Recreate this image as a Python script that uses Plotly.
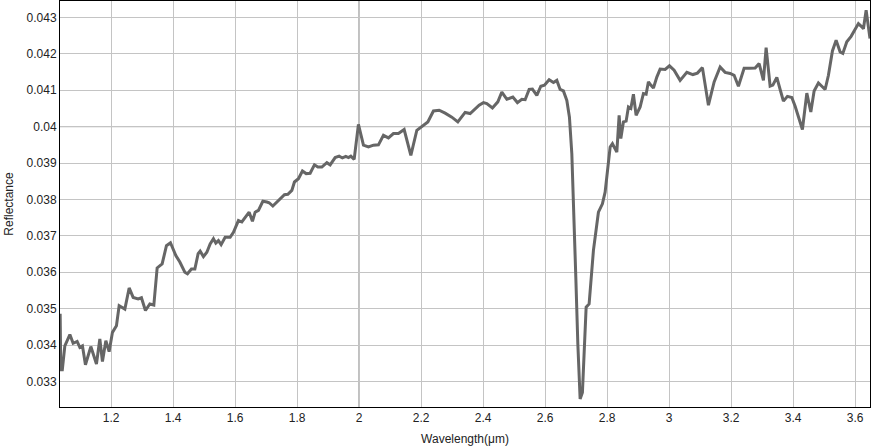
import plotly.graph_objects as go

wavelength = [
    1.0355, 1.0375, 1.0425, 1.0506, 1.0668, 1.0774, 1.0903, 1.0990, 1.1074, 1.1171,
    1.1345, 1.1526, 1.1635, 1.1719, 1.1829, 1.1935, 1.2042, 1.2171, 1.2258, 1.2442,
    1.2581, 1.2710, 1.2871, 1.2977, 1.3106, 1.3248, 1.3377, 1.3484, 1.3645, 1.3784,
    1.3913, 1.4087, 1.4216, 1.4377, 1.4461, 1.4590, 1.4700, 1.4806, 1.4871, 1.4977,
    1.5087, 1.5194, 1.5300, 1.5377, 1.5461, 1.5548, 1.5677, 1.5839, 1.5945, 1.6106,
    1.6216, 1.6323, 1.6452, 1.6558, 1.6645, 1.6752, 1.6894, 1.7023, 1.7097, 1.7216,
    1.7345, 1.7484, 1.7590, 1.7700, 1.7829, 1.7913, 1.8042, 1.8171, 1.8290, 1.8419,
    1.8558, 1.8668, 1.8797, 1.8958, 1.9065, 1.9226, 1.9355, 1.9461, 1.9571, 1.9655,
    1.9732, 1.9839, 1.9977, 2.0139, 2.0300, 2.0461, 2.0623, 2.0784, 2.0945, 2.1106,
    2.1268, 2.1452, 2.1668, 2.1861, 2.2042, 2.2216, 2.2397, 2.2581, 2.2774, 2.2990,
    2.3184, 2.3419, 2.3581, 2.3871, 2.4010, 2.4119, 2.4300, 2.4474, 2.4603, 2.4765,
    2.4958, 2.5106, 2.5248, 2.5355, 2.5484, 2.5590, 2.5732, 2.5861, 2.5977, 2.6129,
    2.6268, 2.6377, 2.6484, 2.6590, 2.6700, 2.6784, 2.6861, 2.6926, 2.6990, 2.7055,
    2.7129, 2.7203, 2.7323, 2.7419, 2.7558, 2.7719, 2.7848, 2.7935, 2.8097, 2.8171,
    2.8313, 2.8387, 2.8442, 2.8526, 2.8613, 2.8687, 2.8765, 2.8848, 2.8935, 2.9065,
    2.9171, 2.9258, 2.9332, 2.9410, 2.9494, 2.9603, 2.9710, 2.9871, 3.0010, 3.0161,
    3.0355, 3.0571, 3.0765, 3.0913, 3.1074, 3.1268, 3.1452, 3.1645, 3.1806, 3.1968,
    3.2097, 3.2235, 3.2419, 3.2590, 3.2774, 3.2903, 3.3042, 3.3129, 3.3258, 3.3345,
    3.3474, 3.3581, 3.3687, 3.3816, 3.3958, 3.4065, 3.4300, 3.4442, 3.4571, 3.4677,
    3.4816, 3.4926, 3.5032, 3.5139, 3.5268, 3.5387, 3.5516, 3.5603, 3.5732, 3.5871,
    3.5968, 3.6106, 3.6216, 3.6268, 3.6355, 3.6480,
]

reflectance = [
    0.03486, 0.03332, 0.03332, 0.03398, 0.03429, 0.03405, 0.03410, 0.03394, 0.03398, 0.03346,
    0.03396, 0.03348, 0.03417, 0.03355, 0.03412, 0.03382, 0.03435, 0.03453, 0.03508, 0.03499,
    0.03557, 0.03531, 0.03527, 0.03530, 0.03495, 0.03513, 0.03510, 0.03612, 0.03623, 0.03673,
    0.03681, 0.03646, 0.03628, 0.03600, 0.03596, 0.03609, 0.03609, 0.03651, 0.03658, 0.03643,
    0.03655, 0.03678, 0.03692, 0.03680, 0.03687, 0.03676, 0.03696, 0.03696, 0.03710, 0.03742,
    0.03738, 0.03751, 0.03765, 0.03740, 0.03765, 0.03770, 0.03795, 0.03793, 0.03791, 0.03782,
    0.03793, 0.03802, 0.03813, 0.03814, 0.03825, 0.03848, 0.03857, 0.03878, 0.03871, 0.03872,
    0.03895, 0.03889, 0.03889, 0.03901, 0.03895, 0.03915, 0.03919, 0.03914, 0.03918, 0.03915,
    0.03919, 0.03910, 0.04006, 0.03949, 0.03944, 0.03949, 0.03950, 0.03976, 0.03969, 0.03981,
    0.03981, 0.03992, 0.03921, 0.03990, 0.04001, 0.04013, 0.04043, 0.04045, 0.04037, 0.04026,
    0.04013, 0.04039, 0.04036, 0.04059, 0.04066, 0.04063, 0.04051, 0.04068, 0.04095, 0.04075,
    0.04081, 0.04066, 0.04075, 0.04074, 0.04102, 0.04103, 0.04086, 0.04111, 0.04114, 0.04129,
    0.04121, 0.04127, 0.04102, 0.04098, 0.04072, 0.04026, 0.03926, 0.03770, 0.03586, 0.03403,
    0.03252, 0.03270, 0.03504, 0.03513, 0.03660, 0.03765, 0.03788, 0.03820, 0.03944, 0.03953,
    0.03930, 0.04031, 0.03967, 0.04013, 0.04015, 0.04054, 0.04050, 0.04089, 0.04031, 0.04054,
    0.04091, 0.04089, 0.04123, 0.04114, 0.04106, 0.04136, 0.04158, 0.04157, 0.04167, 0.04155,
    0.04127, 0.04149, 0.04143, 0.04147, 0.04162, 0.04059, 0.04123, 0.04164, 0.04149, 0.04146,
    0.04141, 0.04111, 0.04160, 0.04160, 0.04161, 0.04173, 0.04127, 0.04217, 0.04111, 0.04114,
    0.04135, 0.04102, 0.04070, 0.04083, 0.04080, 0.04056, 0.03992, 0.04092, 0.04040, 0.04098,
    0.04120, 0.04111, 0.04102, 0.04141, 0.04208, 0.04237, 0.04205, 0.04201, 0.04233, 0.04248,
    0.04262, 0.04283, 0.04274, 0.04269, 0.04320, 0.04242,
]

x_range = [1.035, 3.648]
y_range = [0.0323, 0.04345]
x_ticks = [1.2, 1.4, 1.6, 1.8, 2, 2.2, 2.4, 2.6, 2.8, 3, 3.2, 3.4, 3.6]
y_ticks = [0.033, 0.034, 0.035, 0.036, 0.037, 0.038, 0.039, 0.04, 0.041, 0.042, 0.043]
x_major = 2
y_major = 0.04

FONT = "Liberation Sans, Arial, sans-serif"

fig = go.Figure()
fig.add_trace(go.Scatter(
    x=wavelength, y=reflectance, mode="lines",
    line=dict(color="#666666", width=3),
    hoverinfo="x+y", showlegend=False,
))

fig.add_shape(type="line", xref="x", yref="paper", x0=x_major, x1=x_major, y0=0, y1=1,
              line=dict(color="#5a5a5a", width=1), layer="below")
fig.add_shape(type="line", xref="paper", yref="y", x0=0, x1=1, y0=y_major, y1=y_major,
              line=dict(color="#5a5a5a", width=1), layer="below")

axis_common = dict(
    showgrid=True, gridcolor="#c4c4c4", gridwidth=1,
    showline=True, linecolor="#000000", linewidth=1, mirror=True,
    zeroline=False, ticks="", tickfont=dict(family=FONT, size=12, color="#222222"),
)

fig.update_layout(
    width=871, height=448,
    margin=dict(l=60, r=1, t=1, b=41),
    paper_bgcolor="white", plot_bgcolor="white",
    font=dict(family=FONT, size=12, color="#222222"),
    xaxis=dict(range=x_range, tickvals=x_ticks,
               title=dict(text="Wavelength(μm)", font=dict(family=FONT, size=12, color="#222222"), standoff=10),
               automargin=False, **axis_common),
    yaxis=dict(range=y_range, tickvals=y_ticks,
               title=dict(text="Reflectance", font=dict(family=FONT, size=12, color="#222222"), standoff=10),
               automargin=False, **axis_common),
)

fig.write_html("out.html", config={"displayModeBar": False},
               post_script="document.body.style.margin='0';document.body.style.overflow='hidden';")
